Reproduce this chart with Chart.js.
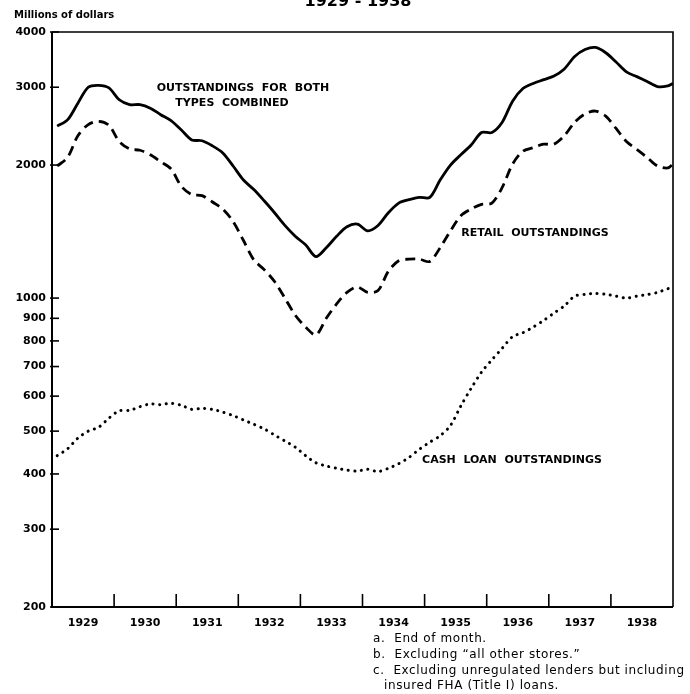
<!DOCTYPE html>
<html>
<head>
<meta charset="utf-8">
<script src="https://cdn.jsdelivr.net/npm/chart.js@4/dist/chart.umd.min.js"></script>
<style>
  html, body { margin: 0; padding: 0; background: #fff; }
  #wrap { position: relative; width: 690px; height: 694px; }
</style>
</head>
<body>
<div id="wrap"><canvas id="chart" width="690" height="694"></canvas></div>
<script>
// month number counted from the start of 1929 (end of month values)
const months = [1, 3, 5, 7, 9, 11, 13, 15, 17, 19, 21, 23, 25, 27, 29, 31, 33, 35, 37, 39,
  41, 43, 45, 47, 49, 51, 53, 55, 57, 59, 61, 63, 65, 67, 69, 71, 73, 75, 77, 79,
  81, 83, 85, 87, 89, 91, 93, 95, 97, 99, 101, 103, 105, 107, 109, 111, 113, 115, 117, 119, 120];

const combined = [2450, 2530, 2760, 3000, 3030, 2990, 2810, 2740, 2740, 2690,
  2600, 2520, 2400, 2280, 2270, 2210, 2130, 1990, 1850, 1760,
  1660, 1560, 1460, 1380, 1320, 1241, 1300, 1380, 1450, 1470,
  1420, 1460, 1560, 1640, 1670, 1690, 1690, 1850, 2000, 2110,
  2220, 2370, 2370, 2500, 2790, 2980, 3060, 3120, 3180, 3300,
  3520, 3650, 3690, 3590, 3420, 3250, 3170, 3090, 3010, 3020, 3060];

const retail = [1990, 2080, 2330, 2470, 2510, 2460, 2260, 2175, 2160, 2110,
  2035, 1960, 1790, 1715, 1705, 1650, 1590, 1490, 1350, 1220,
  1160, 1090, 1000, 915, 860, 825, 900, 970, 1030, 1060,
  1030, 1040, 1150, 1215, 1225, 1225, 1210, 1300, 1420, 1535,
  1590, 1630, 1640, 1780, 2010, 2150, 2190, 2230, 2230, 2330,
  2500, 2610, 2650, 2580, 2420, 2260, 2170, 2080, 1990, 1970, 2010];

const cashLoan = [440, 456, 482, 500, 510, 535, 556, 557, 568, 576,
  574, 578, 572, 560, 563, 560, 552, 542, 530, 518,
  506, 490, 475, 460, 440, 424, 417, 412, 408, 406,
  410, 405, 412, 422, 436, 455, 472, 488, 515, 570,
  625, 680, 725, 770, 818, 835, 860, 890, 925, 960,
  1010, 1020, 1024, 1020, 1010, 1000, 1010, 1018, 1030, 1050, 1060];

const yTicks = [200, 300, 400, 500, 600, 700, 800, 900, 1000, 2000, 3000, 4000];
const yearLabels = ['1929', '1930', '1931', '1932', '1933', '1934', '1935', '1936', '1937', '1938'];
const yearBreaks = [12, 24, 36, 48, 60, 72, 84, 96, 108];

const FONT = "'DejaVu Sans', sans-serif";

function toPoints(values) {
    return values.map((v, i) => ({ x: months[i], y: v }));
}

const framePlugin = {
    id: 'frame',
    afterDraw(chart) {
        const ctx = chart.ctx;
        const area = chart.chartArea;
        const xs = chart.scales.x;
        const ys = chart.scales.y;
        ctx.save();
        ctx.strokeStyle = '#000';

        // box round the plot
        ctx.lineWidth = 2;
        ctx.beginPath();
        ctx.moveTo(area.left, area.top);
        ctx.lineTo(area.left, area.bottom);
        ctx.lineTo(area.right, area.bottom);
        ctx.stroke();
        ctx.lineWidth = 1.6;
        ctx.beginPath();
        ctx.moveTo(area.left, area.top);
        ctx.lineTo(area.right, area.top);
        ctx.lineTo(area.right, area.bottom);
        ctx.stroke();

        // inward tick marks
        ctx.lineWidth = 1.6;
        yTicks.forEach(v => {
            const y = ys.getPixelForValue(v);
            ctx.beginPath();
            ctx.moveTo(area.left - 2, y);
            ctx.lineTo(area.left + 7, y);
            ctx.stroke();
        });
        yearBreaks.forEach(m => {
            const x = xs.getPixelForValue(m);
            ctx.beginPath();
            ctx.moveTo(x, area.bottom);
            ctx.lineTo(x, area.bottom - 13);
            ctx.stroke();
        });

        // texts
        ctx.fillStyle = '#000';
        ctx.textAlign = 'center';
        ctx.textBaseline = 'alphabetic';
        ctx.font = 'bold 16px ' + FONT;
        ctx.fillText('1929 - 1938', 358, 6);

        ctx.textAlign = 'left';
        ctx.font = 'bold 10px ' + FONT;
        ctx.fillText('Millions of dollars', 14, 18);

        ctx.textAlign = 'center';
        ctx.textBaseline = 'middle';
        ctx.font = 'bold 11px ' + FONT;
        ctx.fillText('OUTSTANDINGS  FOR  BOTH', 243, 88);
        ctx.fillText('TYPES  COMBINED', 232, 103);
        ctx.fillText('RETAIL  OUTSTANDINGS', 535, 233);
        ctx.fillText('CASH  LOAN  OUTSTANDINGS', 512, 460);

        ctx.textAlign = 'left';
        ctx.font = '12px ' + FONT;
        ctx.letterSpacing = '0.6px';
        ctx.fillText('a.  End of month.', 373, 639);
        ctx.fillText('b.  Excluding \u201call other stores.\u201d', 373, 655);
        ctx.fillText('c.  Excluding unregulated lenders but including', 373, 671);
        ctx.fillText('insured FHA (Title I) loans.', 384, 686);
        ctx.restore();
    }
};

document.addEventListener('DOMContentLoaded', () => {
    const ctx = document.getElementById('chart').getContext('2d');
    new Chart(ctx, {
        type: 'line',
        data: {
            datasets: [
                {
                    label: 'Outstandings for both types combined',
                    data: toPoints(combined),
                    borderColor: '#000',
                    borderWidth: 2.8,
                    pointRadius: 0,
                    tension: 0.3
                },
                {
                    label: 'Retail outstandings',
                    data: toPoints(retail),
                    borderColor: '#000',
                    borderWidth: 2.8,
                    borderDash: [10, 6],
                    pointRadius: 0,
                    tension: 0.3
                },
                {
                    label: 'Cash loan outstandings',
                    data: toPoints(cashLoan),
                    borderColor: '#000',
                    borderWidth: 3,
                    borderDash: [0.1, 6.5],
                    borderCapStyle: 'round',
                    pointRadius: 0,
                    tension: 0.3
                }
            ]
        },
        options: {
            responsive: false,
            animation: false,
            layout: { padding: { top: 32, right: 17, left: 0, bottom: 0 } },
            plugins: {
                legend: { display: false },
                tooltip: { enabled: false }
            },
            scales: {
                x: {
                    type: 'linear',
                    min: 0,
                    max: 120,
                    grid: { display: false, drawTicks: false },
                    border: { display: false },
                    afterBuildTicks: scale => {
                        scale.ticks = yearLabels.map((_, i) => ({ value: 6 + 12 * i }));
                    },
                    afterFit: scale => { scale.height = 87; },
                    ticks: {
                        padding: 10,
                        color: '#000',
                        font: { family: FONT, size: 11, weight: 'bold' },
                        maxRotation: 0,
                        autoSkip: false,
                        callback: (value) => yearLabels[Math.round((value - 6) / 12)]
                    }
                },
                y: {
                    type: 'logarithmic',
                    min: 200,
                    max: 4000,
                    grid: { display: false, drawTicks: false },
                    border: { display: false },
                    afterBuildTicks: scale => {
                        scale.ticks = yTicks.map(v => ({ value: v }));
                    },
                    afterFit: scale => { scale.width = 52; },
                    ticks: {
                        padding: 6,
                        color: '#000',
                        font: { family: FONT, size: 11, weight: 'bold' },
                        autoSkip: false,
                        callback: (value) => String(value)
                    }
                }
            }
        },
        plugins: [framePlugin]
    });
});
</script>
</body>
</html>
